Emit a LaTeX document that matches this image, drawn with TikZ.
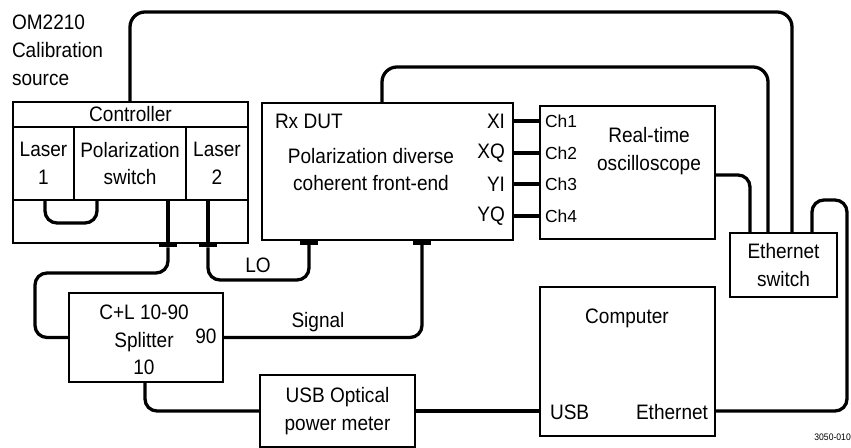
\documentclass[tikz,border=0pt]{standalone}
\usepackage{fontspec}
\setmainfont{Liberation Sans}[FakeStretch=0.91]
\newfontfamily\chfam{Liberation Sans}
\usetikzlibrary{calc}
\newcommand\lab{\fontsize{21}{27.9}\selectfont}
\newcommand\chlab{\chfam\fontsize{17.5}{20}\selectfont}
\begin{document}
\begin{tikzpicture}[x=1bp,y=-1bp,
  box/.style={draw, line width=2.1pt, rectangle, inner sep=0pt, outer sep=0pt, align=center, font=\lab},
  cable/.style={line width=3.3pt, rounded corners=12bp},
  conn/.style={fill=black, rectangle, minimum width=18bp, minimum height=5bp, inner sep=0pt, outer sep=0pt},
  lbl/.style={inner sep=0pt, outer sep=0pt, align=center, font=\lab},
  chl/.style={inner sep=0pt, outer sep=0pt, font=\chlab}]
\useasboundingbox (0,0) rectangle (851,448);

% OM2210 calibration source
\node[lbl, align=left, anchor=north west] (omlbl) at (12,15) {OM2210\\Calibration\\source};
\node[box, minimum width=235bp, minimum height=141bp] (om) at (130.5,172.5) {};
\node[box, minimum width=235bp, minimum height=25bp] (ctrl) at (130.5,114.5) {Controller};
\node[box, minimum width=61bp, minimum height=73bp] (laser1) at (43.5,163.5) {Laser\\1};
\node[box, minimum width=112bp, minimum height=73bp] (polsw) at (130,163.5) {Polarization\\switch};
\node[box, minimum width=62bp, minimum height=73bp] (laser2) at (217,163.5) {Laser\\2};

% Rx DUT
\node[box, minimum width=251bp, minimum height=137bp] (rx) at (387.5,171.5) {};
\node[lbl, anchor=west] (rxlbl) at (275,121) {Rx DUT};
\node[lbl] (rxtxt) at (371,169.5) {Polarization diverse\\coherent front-end};
\node[lbl, anchor=east] (xi) at (505,121) {XI};
\node[lbl, anchor=east] (xq) at (505,153) {XQ};
\node[lbl, anchor=east] (yi) at (505,184) {YI};
\node[lbl, anchor=east] (yq) at (505,216) {YQ};

% Oscilloscope
\node[box, minimum width=175bp, minimum height=133bp] (scope) at (627.5,172.5) {};
\node[chl, anchor=west] (ch1) at (545,121) {Ch1};
\node[chl, anchor=west] (ch2) at (545,153) {Ch2};
\node[chl, anchor=west] (ch3) at (545,184) {Ch3};
\node[chl, anchor=west] (ch4) at (545,216) {Ch4};
\node[lbl] (scopetxt) at (649,151) {Real-time\\oscilloscope};

% Ethernet switch
\node[box, minimum width=107bp, minimum height=64bp] (sw) at (783.5,265) {Ethernet\\switch};

% Computer
\node[box, minimum width=175bp, minimum height=149bp] (comp) at (627.5,361.5) {};
\node[lbl] (comptxt) at (627,318) {Computer};
\node[lbl, anchor=west] (usb) at (550,412) {USB};
\node[lbl, anchor=east] (eth) at (708,412) {Ethernet};

% Power meter
\node[box, minimum width=155bp, minimum height=72bp] (meter) at (337.5,411) {USB Optical\\power meter};

% Splitter
\node[box, minimum width=154bp, minimum height=89bp] (split) at (146,337.5) {};
\node[lbl] (splittxt) at (144,340) {C+L 10-90\\Splitter\\10};
\node[lbl] (n90) at (206,336) {90};

% connectors
\node[conn] (c1) at (168,245) {};
\node[conn] (c2) at (208,245) {};
\node[conn] (c3) at (309,242.5) {};
\node[conn] (c4) at (422,242.5) {};

% labels on cables
\node[lbl] (lo) at (258,265) {LO};
\node[lbl] (sig) at (318,322) {Signal};
\node[inner sep=0pt, anchor=east, font=\fontsize{9.5}{10}\selectfont] (code) at (851,437) {3050-010};

% cables inside source
\draw[cable] ([xshift=32bp]laser1.south west) -- ++(0,23) -- ++(52,0) -- ++(0,-23);
\draw[cable] (polsw.south -| c1) -- (c1.north);
\draw[cable] (laser2.south -| c2) -- (c2.north);

% Rx outputs to scope
\draw[cable] (rx.east |- xi) -- (scope.west |- xi);
\draw[cable] (rx.east |- xq) -- (scope.west |- xq);
\draw[cable] (rx.east |- yi) -- (scope.west |- yi);
\draw[cable] (rx.east |- yq) -- (scope.west |- yq);

% ethernet cables
\draw[cable, rounded corners=15bp] ([xshift=-0.5bp]ctrl.north) -- ++(0,-90) -| ([xshift=8.5bp]sw.north);
\draw[cable, rounded corners=15bp] ([xshift=120bp]rx.north west) -- ++(0,-36) -| ([xshift=-15.5bp]sw.north);
\draw[cable] ([yshift=-2.5bp]scope.east) -| ([xshift=-33.5bp]sw.north);
\coordinate (rt) at (847,200);
\draw[cable] ([xshift=28.5bp]sw.north) |- (rt) |- ([yshift=-49.5bp]comp.east);

% optical cables
\draw[cable] (c1.south) -- ++(0,25.5) -| ([xshift=-34bp]split.west) -- (split.west);
\draw[cable] (c2.south) -- ++(0,32.5) -| (c3.south);
\draw[cable] (split.east) -| (c4.south);
\draw[cable] ([xshift=-1bp]split.south) |- (meter.west);
\draw[cable] (meter.east) -- (meter.east -| comp.west);
\end{tikzpicture}
\end{document}
